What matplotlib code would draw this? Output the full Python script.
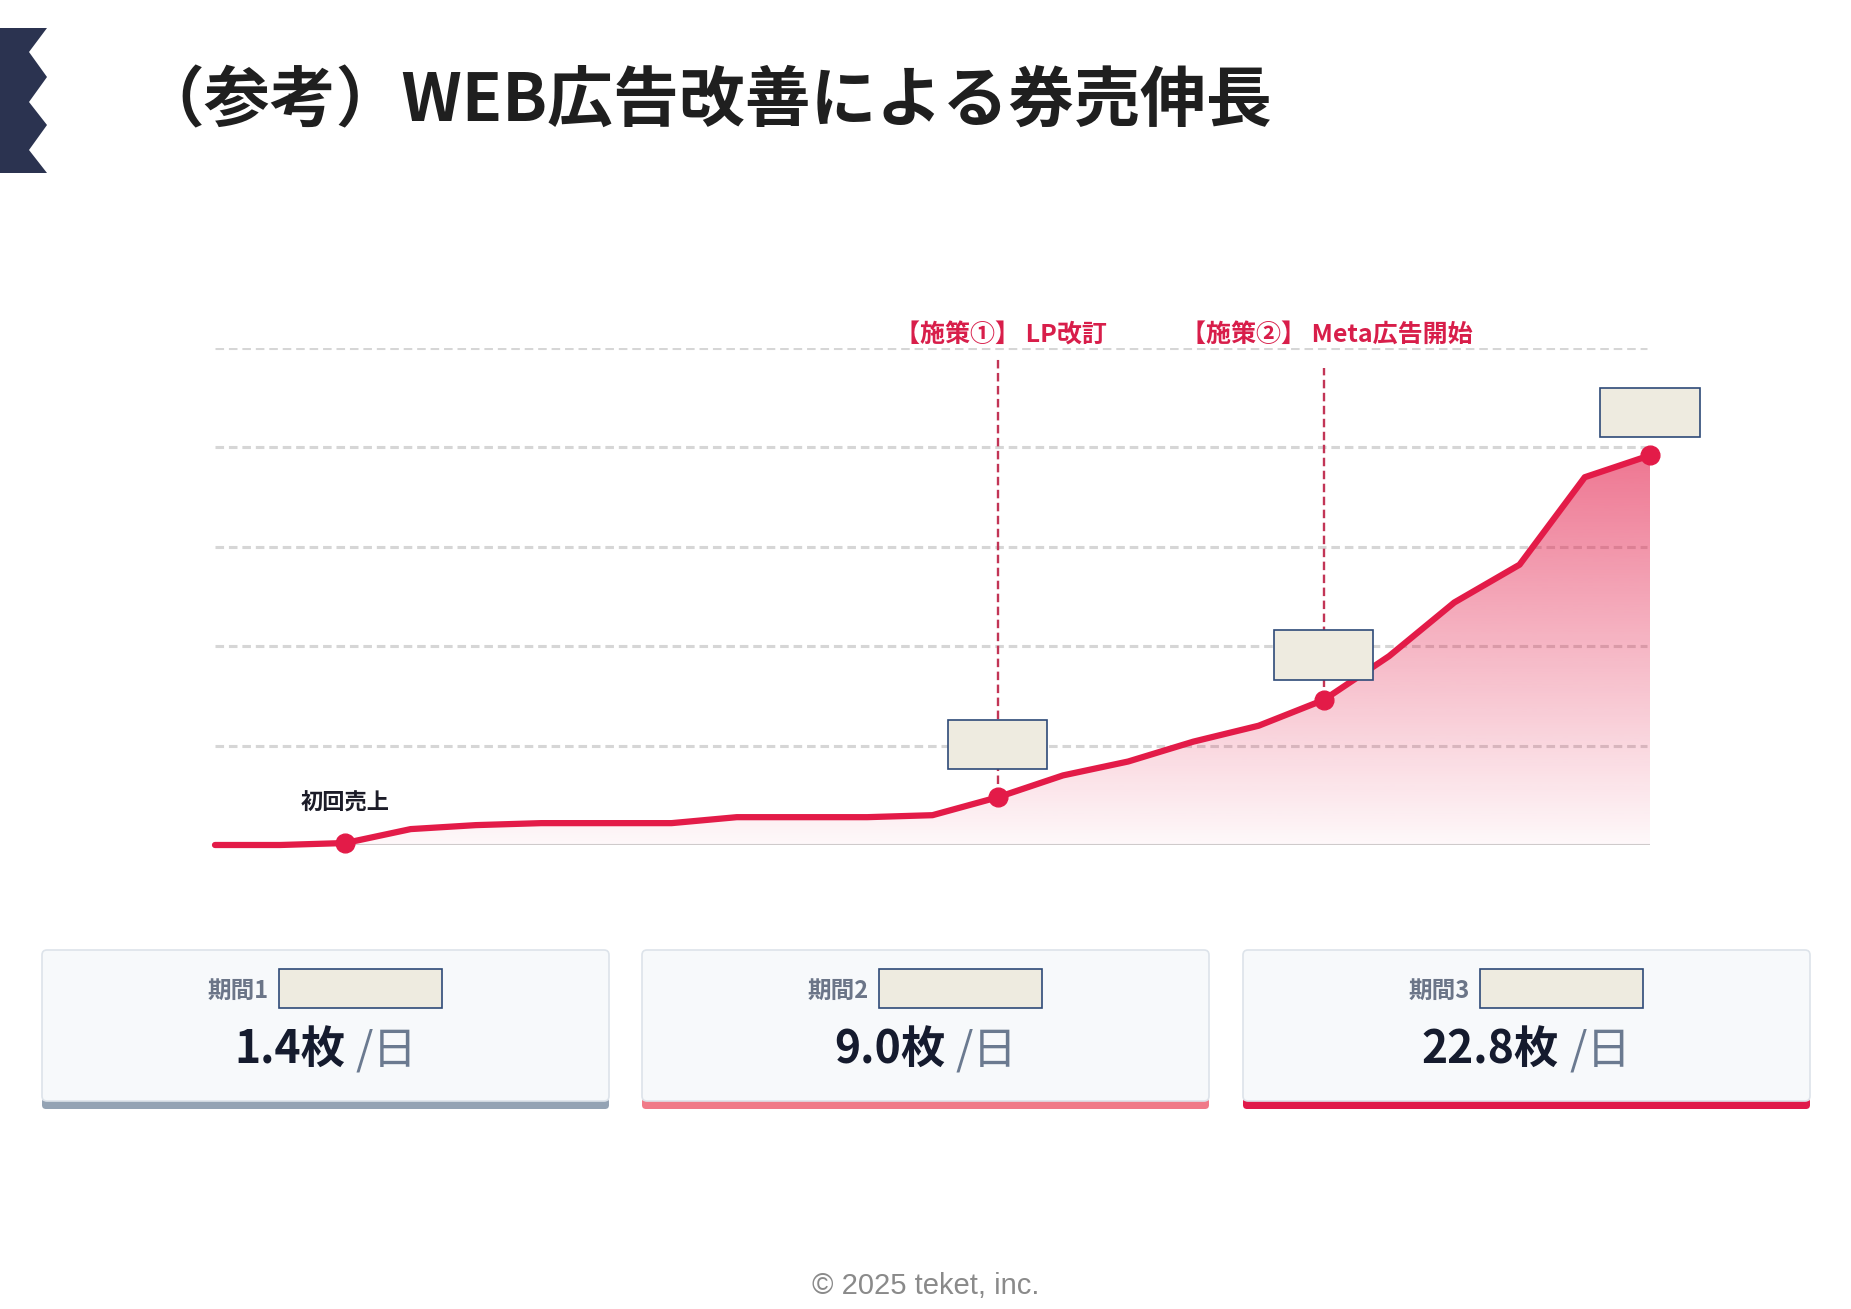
import numpy as np
import matplotlib
matplotlib.use("Agg")
import matplotlib.pyplot as plt
from matplotlib.patches import Rectangle, FancyBboxPatch, Polygon

plt.rcParams['font.family'] = ['Noto Sans CJK JP', 'DejaVu Sans']

W, H = 1851, 1309

# daily ticket sales (one point per step)
sales = [0, 0, 0.1, 0.8, 1.0, 1.1, 1.1, 1.1, 1.4, 1.4, 1.4, 1.5, 2.4,
         3.5, 4.2, 5.2, 6.0, 7.3, 9.5, 12.2, 14.1, 18.5, 19.6]
marker_idx = [2, 12, 17, 22]
first_sale_idx = 2
first_sale_label = "初回売上"
measure_idx = [12, 17]
measure_labels = ["【施策①】 LP改訂", "【施策②】 Meta広告開始"]
measure_tops = [24.5, 24.0]
box_idx = [12, 17, 22]
grid_levels = [5, 10, 15, 20, 25]

title = "（参考）WEB広告改善による券売伸長"
period_labels = ["期間1", "期間2", "期間3"]
period_values = ["1.4枚", "9.0枚", "22.8枚"]
period_colors = ["#94a3b4", "#f07a88", "#e0194a"]
footer = "© 2025 teket, inc."

RED = "#e31b48"
BOX_FACE = "#eeebe0"
BOX_EDGE = "#2e4a78"

fig = plt.figure(figsize=(W / 100, H / 100), dpi=100)
fig.patch.set_facecolor("white")

# overlay in pixel coords for title, cards, footer
ov = fig.add_axes([0, 0, 1, 1])
ov.set_xlim(0, W)
ov.set_ylim(H, 0)
ov.axis("off")

# zigzag ribbon on the left
zz = [(0, 28), (47, 28), (29, 52), (47, 77), (29, 102), (47, 125),
      (29, 150), (47, 173), (0, 173)]
ov.add_patch(Polygon(zz, closed=True, color="#2b3350", lw=0))

ov.text(138, 102, title, fontsize=47.4, fontweight="bold", color="#1f1f1f",
        ha="left", va="center")

# ---- chart ----
ax = fig.add_axes([215 / W, 1 - 845 / H, (1650 - 215) / W, (845 - 348) / H])
ax.patch.set_alpha(0)
x = np.arange(len(sales))
y = np.array(sales)

for lv in grid_levels:
    ax.plot([0, 21.95], [lv, lv], color="#d6d6d6", lw=2.2,
            ls=(0, (2.8, 1.6)), dash_capstyle="butt", zorder=1)
ax.plot([first_sale_idx, x[-1]], [0, 0], color="#cfcfcf", lw=1.5, zorder=1)

# gradient area under the curve
fill = ax.fill_between(x[first_sale_idx:], y[first_sale_idx:], 0,
                       color="none", lw=0)
top = y.max()
vals = np.linspace(0, top, 256).reshape(-1, 1)
rgba = np.zeros((256, 1, 4))
rgba[..., 0] = 227 / 255
rgba[..., 1] = 27 / 255
rgba[..., 2] = 72 / 255
rgba[..., 3] = 0.03 + 0.029 * vals
im = ax.imshow(rgba, origin="lower", aspect="auto",
               extent=[first_sale_idx, x[-1], 0, top], zorder=2)
im.set_clip_path(fill.get_paths()[0], transform=ax.transData)

for i, t in zip(measure_idx, measure_tops):
    ax.plot([i, i], [y[i], t], color="#c23556", lw=1.7,
            ls=(0, (3.6, 1.9)), zorder=3, clip_on=False)

ax.plot(x, y, color=RED, lw=4.5, solid_joinstyle="round",
        solid_capstyle="round", zorder=4, clip_on=False)
ax.plot(x[marker_idx], y[marker_idx], "o", ms=13.5, color=RED,
        zorder=5, clip_on=False)

for i, lab in zip(measure_idx, measure_labels):
    ax.text(i + 0.05, 25.65, lab, fontsize=18, fontweight="bold", color="#d81e4a",
            ha="center", va="center", zorder=6)

ax.text(first_sale_idx, 2.1, first_sale_label, fontsize=16,
        fontweight="bold", color="#1c1c28", ha="center", va="center")

# blank value boxes above highlighted points
box_gap = [1.4, 1.0, 0.9]
for i, g in zip(box_idx, box_gap):
    ax.add_patch(Rectangle((i - 0.76, y[i] + g), 1.52, 2.5, facecolor=BOX_FACE,
                           edgecolor=BOX_EDGE, lw=1.2, zorder=6, clip_on=False))

ax.set_xlim(0, len(sales) - 1)
ax.set_ylim(0, 25)
ax.axis("off")

# ---- period cards ----
card_x = [42, 642, 1243]
card_w = 567
cy0, cy1 = 950, 1109
for cx, lab, val, col in zip(card_x, period_labels, period_values, period_colors):
    ov.add_patch(FancyBboxPatch((cx, cy1 - 11), card_w, 11,
                                boxstyle="round,pad=0,rounding_size=4",
                                facecolor=col, edgecolor="none", zorder=2))
    ov.add_patch(FancyBboxPatch((cx, cy0), card_w, cy1 - cy0 - 8,
                                boxstyle="round,pad=0,rounding_size=5",
                                facecolor="#f7f9fb", edgecolor="#dde3ea",
                                lw=1.2, zorder=3))
    c = cx + card_w / 2
    ov.text(c - 57, 991, lab, fontsize=17, fontweight="bold", color="#6b7588",
            ha="right", va="center", zorder=4)
    ov.add_patch(Rectangle((c - 47, 969), 163, 39, facecolor=BOX_FACE,
                           edgecolor=BOX_EDGE, lw=1.2, zorder=4))
    t1 = ov.text(c, 1050, val, fontsize=32, fontweight="bold", color="#151b2e",
                 ha="left", va="center", zorder=4)
    t2 = ov.text(c, 1050, "/日", fontsize=32, color="#6b7a90",
                 ha="left", va="center", zorder=4)
    fig.canvas.draw()
    r = fig.canvas.get_renderer()
    w1 = t1.get_window_extent(r).width
    w2 = t2.get_window_extent(r).width
    gap = 10
    start = c - (w1 + gap + w2) / 2
    t1.set_x(start)
    t2.set_x(start + w1 + gap)

ov.text(926, 1286, footer, fontsize=21, color="#8a8a8a",
        family="Liberation Sans", ha="center", va="center")

fig.savefig("out.png", dpi=100)
